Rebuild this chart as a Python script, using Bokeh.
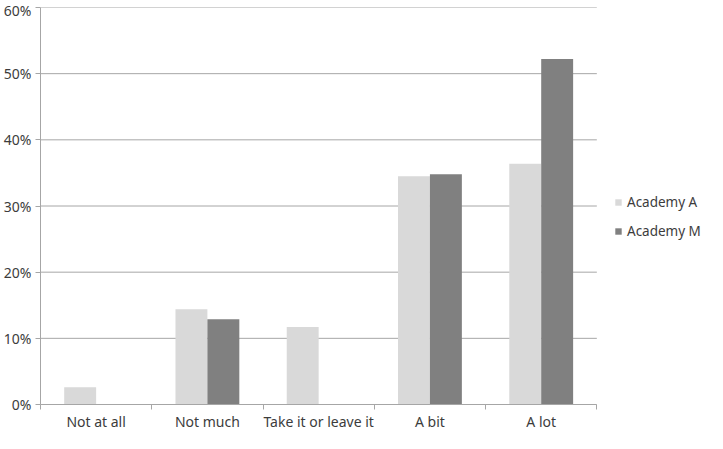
import numpy as np
from bokeh.plotting import figure
from bokeh.models import (ColumnDataSource, FixedTicker, NumeralTickFormatter,
                          Legend, LegendItem, Range1d)
from bokeh.embed import file_html
from bokeh.resources import INLINE

categories = ["Not at all", "Not much", "Take it or leave it", "A bit", "A lot"]
academy_a = [0.026, 0.144, 0.117, 0.345, 0.364]
academy_m = [0.0, 0.129, 0.0, 0.348, 0.522]
y_ticks = [0.0, 0.1, 0.2, 0.3, 0.4, 0.5, 0.6]
series_names = ["Academy A", "Academy M"]

FONT = "Noto Sans"
TEXT = "#3c3c3c"
GRID = "#a6a6a6"
COL_A = "#d9d9d9"
COL_M = "#808080"

n = len(categories)
centers = np.arange(n) + 0.5
bar_w = 0.287
src = ColumnDataSource(dict(
    xa=centers - bar_w / 2, xm=centers + bar_w / 2,
    a=academy_a, m=academy_m))

# frame extends to the right edge so the legend can sit beside the bars
p = figure(width=707, height=433, output_backend="svg", toolbar_location=None,
           x_range=Range1d(0, n * 669 / 558), y_range=Range1d(0, 0.6),
           min_border_top=7, min_border_left=38, min_border_bottom=0,
           min_border_right=0)
p.outline_line_color = None

# horizontal gridlines over the category span only
p.segment(x0=0, x1=n, y0=y_ticks, y1=y_ticks, line_color=GRID, line_width=1)

ra = p.vbar(x="xa", top="a", width=bar_w, source=src, fill_color=COL_A, line_color=None)
rm = p.vbar(x="xm", top="m", width=bar_w, source=src, fill_color=COL_M, line_color=None)

# x axis: labels at centers, ticks at category boundaries
p.xaxis.ticker = FixedTicker(ticks=list(centers), minor_ticks=list(range(n + 1)))
p.xaxis.major_label_overrides = {float(c): lab for c, lab in zip(centers, categories)}
p.xaxis.bounds = (0, n)
p.xaxis.major_tick_out = 0
p.xaxis.major_tick_in = 0
p.xaxis.minor_tick_out = 5
p.xaxis.minor_tick_in = 0
p.xaxis.minor_tick_line_color = GRID
p.xaxis.axis_line_color = GRID
p.xaxis.major_label_standoff = 2
p.xgrid.visible = False
p.ygrid.visible = False

p.yaxis.ticker = FixedTicker(ticks=y_ticks, minor_ticks=[])
p.yaxis.formatter = NumeralTickFormatter(format="0%")
p.yaxis.major_tick_out = 5
p.yaxis.major_tick_in = 0
p.yaxis.major_tick_line_color = GRID
p.yaxis.axis_line_color = GRID
p.yaxis.major_label_standoff = 4

for ax in (p.xaxis, p.yaxis):
    ax.major_label_text_font = FONT
    ax.major_label_text_font_size = "14px"
    ax.major_label_text_color = TEXT

legend = Legend(items=[LegendItem(label=series_names[0], renderers=[ra]),
                       LegendItem(label=series_names[1], renderers=[rm])],
                location=(574, 163), orientation="vertical")
legend.glyph_width = 8
legend.glyph_height = 8
legend.label_standoff = 5
legend.spacing = 9
legend.label_height = 20
legend.padding = 0
legend.margin = 0
legend.border_line_color = None
legend.background_fill_color = None
legend.label_text_font = FONT
legend.label_text_font_size = "13.5px"
legend.label_text_color = TEXT
p.add_layout(legend)

open("out.html", "w").write(file_html(p, INLINE))
